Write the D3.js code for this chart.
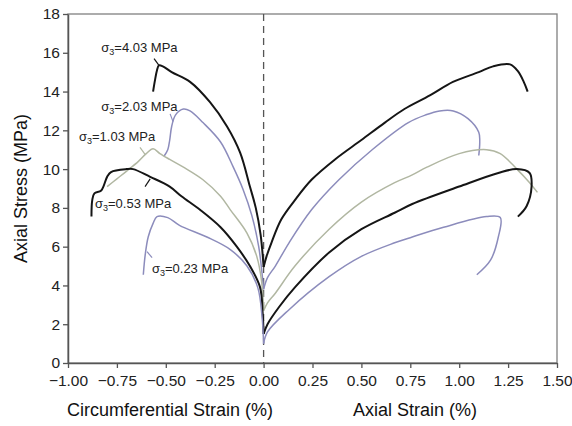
<!DOCTYPE html>
<html><head><meta charset="utf-8">
<script src="https://cdn.jsdelivr.net/npm/d3@7/dist/d3.min.js"></script>
<style>body{margin:0;background:#fff;}svg{display:block;font-family:"Liberation Sans",Arial,sans-serif;}</style>
</head><body>
<svg id="c" width="572" height="426"></svg>
<script>
const xTicks = [-1.00,-0.75,-0.50,-0.25,0.00,0.25,0.50,0.75,1.00,1.25,1.50];
const yTicks = [0,2,4,6,8,10,12,14,16,18];
const confining = ["4.03","2.03","1.03","0.53","0.23"];
const colors = ["#151515","#8c8cbc","#b1b7a2","#151515","#8c8cbc"];
const widths = [2,1.5,1.5,2,1.5];

// circumferential strain branches (negative) [strain %, stress MPa]
const circ403 = [[-0.565,14.0],[-0.555,14.6],[-0.545,15.1],[-0.535,15.35],[-0.515,15.3],[-0.47,15.0],[-0.376,14.5],[-0.274,13.45],[-0.187,12.2],[-0.12,10.85],[-0.07,9.1],[-0.04,8.0],[-0.015,6.6],[0,4.95]];
const circ203 = [[-0.51,10.65],[-0.49,11.0],[-0.48,11.5],[-0.47,12.2],[-0.45,12.8],[-0.41,13.1],[-0.376,13.0],[-0.31,12.4],[-0.22,11.4],[-0.155,10.1],[-0.105,8.95],[-0.06,7.6],[-0.025,6.0],[0,3.8]];
const circ103 = [[-0.80,9.1],[-0.75,9.5],[-0.70,9.9],[-0.64,10.4],[-0.60,10.8],[-0.565,11.05],[-0.53,10.8],[-0.48,10.5],[-0.41,10.1],[-0.31,9.45],[-0.22,8.6],[-0.17,7.9],[-0.085,6.7],[-0.035,5.5],[-0.01,4.2],[0,2.7]];
const circ053 = [[-0.88,7.55],[-0.876,8.4],[-0.865,8.75],[-0.83,8.9],[-0.80,9.6],[-0.78,9.85],[-0.70,10.0],[-0.667,10.0],[-0.58,9.6],[-0.48,9.1],[-0.42,8.6],[-0.325,7.9],[-0.22,7.0],[-0.137,6.0],[-0.07,5.0],[-0.018,3.9],[-0.005,2.6],[0,1.5]];
const circ023 = [[-0.615,4.55],[-0.605,5.6],[-0.59,6.5],[-0.565,7.2],[-0.545,7.55],[-0.49,7.5],[-0.43,7.1],[-0.29,6.5],[-0.17,5.85],[-0.085,5.0],[-0.03,3.9],[-0.008,2.4],[0,1.0]];

// axial strain branches (positive)
const axial403 = [[0,4.95],[0.015,5.5],[0.04,6.2],[0.09,7.4],[0.16,8.4],[0.245,9.45],[0.365,10.5],[0.50,11.5],[0.62,12.4],[0.72,13.1],[0.85,13.8],[0.968,14.5],[1.10,15.0],[1.173,15.3],[1.26,15.4],[1.30,15.05],[1.33,14.5],[1.35,14.0]];
const axial203 = [[0,3.8],[0.02,4.4],[0.06,5.0],[0.13,6.2],[0.245,7.9],[0.385,9.45],[0.555,11.0],[0.74,12.4],[0.83,12.8],[0.90,13.0],[0.97,13.0],[1.045,12.6],[1.10,11.9],[1.105,11.4],[1.10,10.7]];
const axial103 = [[0,2.7],[0.02,3.1],[0.06,3.6],[0.16,5.0],[0.335,6.9],[0.50,8.3],[0.67,9.3],[0.76,9.7],[0.835,10.1],[1.0,10.8],[1.14,11.0],[1.21,10.8],[1.295,10.0],[1.36,9.3],[1.40,8.8]];
const axial053 = [[0,1.5],[0.02,2.0],[0.08,2.9],[0.16,3.9],[0.335,5.7],[0.50,6.9],[0.67,7.75],[0.76,8.2],[1.0,9.1],[1.2,9.8],[1.295,10.0],[1.36,9.8],[1.37,9.1],[1.345,8.1],[1.30,7.55]];
const axial023 = [[0,1.0],[0.02,1.6],[0.13,2.75],[0.335,4.45],[0.50,5.5],[0.67,6.2],[0.76,6.5],[0.92,7.0],[1.14,7.55],[1.21,7.5],[1.20,6.5],[1.16,5.3],[1.09,4.55]];

const circBranches = [circ403,circ203,circ103,circ053,circ023];
const axialBranches = [axial403,axial203,axial103,axial053,axial023];

// label anchors (text start, baseline) in data units, and leader lines
const labelPos = [[-0.83,16.04],[-0.83,12.98],[-0.944,11.43],[-0.862,8.02],[-0.571,4.66]];
const leaders = [
  [[-0.56,15.7],[-0.535,15.35]],
  [[-0.478,12.85],[-0.463,12.45]],
  [[-0.632,11.12],[-0.606,10.76]],
  [[-0.606,9.1],[-0.58,9.5]],
  [[-0.596,5.74],[-0.57,5.43]]
];

const svg = d3.select("#c");
const L=68,R=557,T=14,B=363;
const x = d3.scaleLinear().domain([-1,1.5]).range([L,R]);
const y = d3.scaleLinear().domain([0,18]).range([B,T]);
const axisColor="#555";

// frame
svg.append("rect").attr("x",L).attr("y",T).attr("width",R-L).attr("height",B-T)
  .attr("fill","none").attr("stroke","#808080").attr("stroke-width",1.3);

// zero dashed line
svg.append("line").attr("x1",x(0)).attr("x2",x(0)).attr("y1",T).attr("y2",B)
  .attr("stroke","#555").attr("stroke-width",1.3).attr("stroke-dasharray","7,5");

const xa = svg.append("g").attr("transform",`translate(0,${B})`)
  .call(d3.axisBottom(x).tickValues(xTicks).tickFormat(d3.format(".2f")).tickSize(5).tickSizeOuter(0));
const ya = svg.append("g").attr("transform",`translate(${L},0)`)
  .call(d3.axisLeft(y).tickValues(yTicks).tickFormat(d3.format("d")).tickSize(5).tickSizeOuter(0));
[xa,ya].forEach(g=>{
  g.select(".domain").attr("stroke",axisColor).attr("stroke-width",1.5);
  g.selectAll(".tick line").attr("stroke",axisColor).attr("stroke-width",1.3);
  g.selectAll(".tick text").attr("fill","#222").style("font-size","15.5px").style("font-family","'Liberation Sans',Arial,sans-serif");
});
xa.selectAll(".tick text").attr("dy","0.95em");

const line = d3.line().x(d=>x(d[0])).y(d=>y(d[1])).curve(d3.curveCatmullRom.alpha(0.5));

confining.forEach((c,i)=>{
  [circBranches[i],axialBranches[i]].forEach(arr=>{
    svg.append("path").attr("d",line(arr)).attr("fill","none")
      .attr("stroke",colors[i]).attr("stroke-width",widths[i]).attr("stroke-linejoin","round");
  });
  svg.append("path").attr("d",d3.line().x(d=>x(d[0])).y(d=>y(d[1]))(leaders[i]))
    .attr("stroke",colors[i]).attr("stroke-width",1.2).attr("fill","none");
  const t = svg.append("text").attr("x",x(labelPos[i][0])).attr("y",y(labelPos[i][1]))
    .style("font-size","13px").attr("fill","#222");
  t.append("tspan").text("σ");
  t.append("tspan").text("3").attr("dy","3").style("font-size","9px");
  t.append("tspan").text("=" + c + " MPa").attr("dy","-3");
});

// axis titles
svg.append("text").attr("x",170).attr("y",416).attr("text-anchor","middle")
  .style("font-size","18px").attr("fill","#111").text("Circumferential Strain (%)");
svg.append("text").attr("x",415).attr("y",416).attr("text-anchor","middle")
  .style("font-size","18px").attr("fill","#111").text("Axial Strain (%)");
svg.append("text").attr("transform",`translate(27,${y(9.0)}) rotate(-90)`).attr("text-anchor","middle")
  .style("font-size","18px").attr("fill","#111").text("Axial Stress (MPa)");
</script>
</body></html>
